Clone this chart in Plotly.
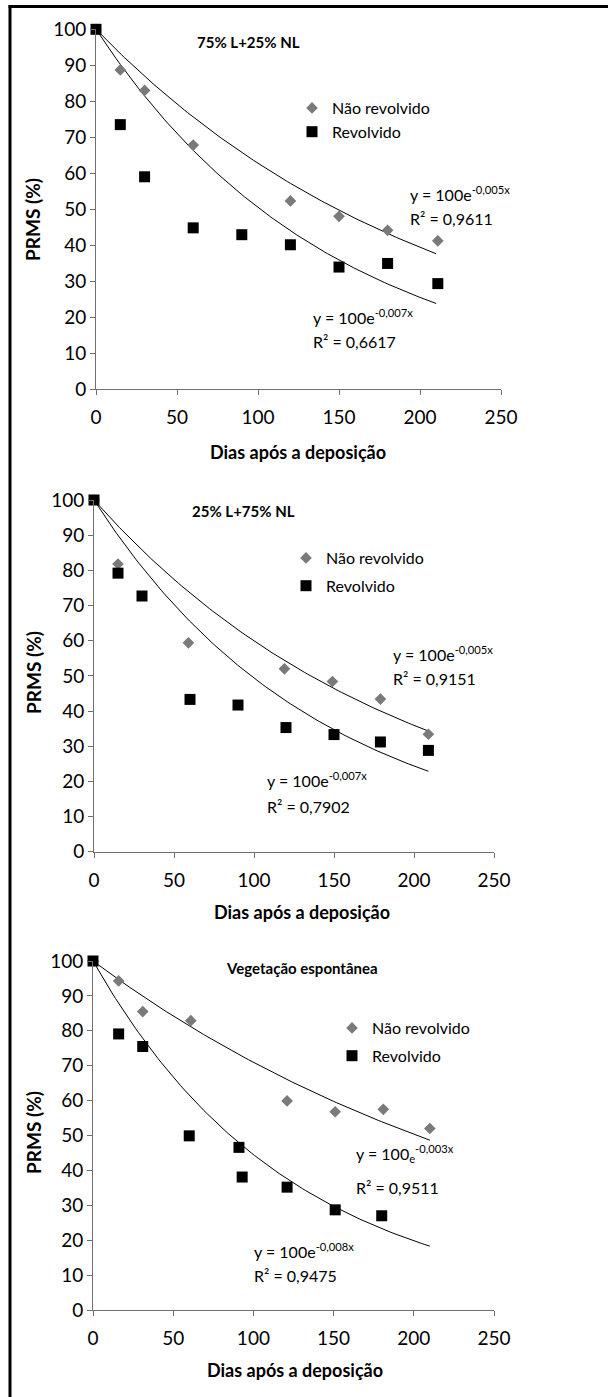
import numpy as np
import plotly.graph_objects as go

# ---------------- data ----------------
titles = ["75% L+25% NL", "25% L+75% NL", "Vegetação espontânea"]
series_names = ["Não revolvido", "Revolvido"]

p1_days_nr = [0, 15, 30, 60, 120, 150, 180, 211]
p1_nr = [100, 88.7, 83.0, 67.8, 52.3, 48.0, 44.1, 41.2]
p1_days_r = [0, 15, 30, 60, 90, 120, 150, 180, 211]
p1_r = [100, 73.5, 59.0, 44.8, 42.9, 40.1, 33.9, 34.9, 29.3]

p2_days_nr = [0, 15, 59, 119, 149, 179, 209]
p2_nr = [100, 81.8, 59.4, 52.0, 48.4, 43.4, 33.4]
p2_days_r = [0, 15, 30, 60, 90, 120, 150, 179, 209]
p2_r = [100, 79.2, 72.7, 43.3, 41.7, 35.3, 33.3, 31.2, 28.8]

p3_days_nr = [0, 16, 31, 61, 121, 151, 181, 210]
p3_nr = [100, 94.3, 85.5, 82.9, 59.9, 56.8, 57.5, 52.0]
p3_days_r = [0, 16, 31, 60, 91, 93, 121, 151, 180]
p3_r = [100, 79.1, 75.5, 49.9, 46.6, 38.1, 35.2, 28.7, 27.0]

# fitted exponential trend coefficients (y = a * exp(-k x)) and fit end day
fit_a = [100, 100, 100]
fit_k_nr = [0.00466, 0.00512, 0.00343]
fit_k_r = [0.00684, 0.00706, 0.00809]
fit_end = [210, 209, 210]

eq_nr = ["y = 100e<sup>-0,005x</sup>", "y = 100e<sup>-0,005x</sup>", "y = 100<sub>e</sub><sup>-0,003x</sup>"]
r2_nr = ["R² = 0,9611", "R² = 0,9151", "R² = 0,9511"]
eq_r = ["y = 100e<sup>-0,007x</sup>", "y = 100e<sup>-0,007x</sup>", "y = 100e<sup>-0,008x</sup>"]
r2_r = ["R² = 0,6617", "R² = 0,7902", "R² = 0,9475"]

x_ticks = [0, 50, 100, 150, 200, 250]
y_ticks = [0, 10, 20, 30, 40, 50, 60, 70, 80, 90, 100]
x_title = "Dias após a deposição"
y_title = "PRMS (%)"

# ---------------- layout helpers ----------------
W, H = 608, 1397
FONT = "Lato"
GRAY = "#7a7a7a"
AXC = "#707070"

def px(x):
    return x / W

def py(y):
    return 1 - y / H

# pixel geometry of each panel: x0, x250, y100, y0
geo = [(96, 501, 29.3, 389), (94, 494, 500, 851.7), (93, 494, 961, 1310)]

data_nr = [(p1_days_nr, p1_nr), (p2_days_nr, p2_nr), (p3_days_nr, p3_nr)]
data_r = [(p1_days_r, p1_r), (p2_days_r, p2_r), (p3_days_r, p3_r)]

fig = go.Figure()
annotations = []
legend_pos = [(312, 108), (306, 558), (352, 1028)]
legend_gap = [0, 4, 4]
title_pos = [(248, 42), (243, 511), (302, 968)]
xt_pos = [(298, 452), (302, 912), (295, 1370)]
yt_pos = [(33, 220), (33, 673), (33, 1133)]
eqnr_pos = [(408, 193, 218), (391, 653, 678), (354, 1153, 1187)]
eqr_pos = [(311, 317, 341), (265, 780, 807), (252, 1250, 1275)]

for i in range(3):
    sfx = "" if i == 0 else str(i + 1)
    xa, ya = "x" + sfx, "y" + sfx
    leg = "legend" if i == 0 else "legend" + str(i + 1)
    a = fit_a[i]
    xs = np.linspace(0, fit_end[i], 120)
    fig.add_trace(go.Scatter(x=xs, y=a * np.exp(-fit_k_nr[i] * xs), mode="lines",
                             line=dict(color="black", width=1), showlegend=False,
                             xaxis=xa, yaxis=ya, hoverinfo="skip"))
    fig.add_trace(go.Scatter(x=xs, y=a * np.exp(-fit_k_r[i] * xs), mode="lines",
                             line=dict(color="black", width=1), showlegend=False,
                             xaxis=xa, yaxis=ya, hoverinfo="skip"))
    fig.add_trace(go.Scatter(x=data_nr[i][0], y=data_nr[i][1], mode="markers",
                             name=series_names[0], legend=leg, legendgroup="nr%d" % i,
                             marker=dict(symbol="diamond", size=9, color=GRAY),
                             cliponaxis=False, xaxis=xa, yaxis=ya))
    fig.add_trace(go.Scatter(x=data_r[i][0], y=data_r[i][1], mode="markers",
                             name=series_names[1], legend=leg, legendgroup="r%d" % i,
                             marker=dict(symbol="square", size=11, color="black"),
                             cliponaxis=False, xaxis=xa, yaxis=ya))

    x0, x250, y100, y0 = geo[i]
    axis_common = dict(showgrid=False, zeroline=False, showline=True, linecolor=AXC,
                       linewidth=1, ticks="outside", ticklen=5, tickcolor=AXC,
                       automargin=False,
                       tickfont=dict(family=FONT, size=19, color="black"))
    fig.layout["xaxis" + sfx] = dict(domain=[px(x0), px(x250)], range=[0, 250],
                                     tickvals=x_ticks, anchor=ya, ticklabelstandoff=6,
                                     **axis_common)
    fig.layout["yaxis" + sfx] = dict(domain=[py(y0), py(y100)], range=[0, 100],
                                     tickvals=y_ticks, anchor=xa, **axis_common)

    lx, ly = legend_pos[i]
    fig.layout[leg] = dict(x=px(lx - 20), y=py(ly - 17), xanchor="left", yanchor="top",
                           bgcolor="rgba(0,0,0,0)", font=dict(family=FONT, size=16, color="black"),
                           itemwidth=30, tracegroupgap=legend_gap[i])

    tx, ty = title_pos[i]
    annotations.append(dict(x=px(tx), y=py(ty), xref="paper", yref="paper", text="<b>%s</b>" % titles[i],
                            showarrow=False, font=dict(family=FONT, size=15, color="black"),
                            xanchor="center", yanchor="middle"))
    xx, xy = xt_pos[i]
    annotations.append(dict(x=px(xx), y=py(xy), xref="paper", yref="paper", text="<b>%s</b>" % x_title,
                            showarrow=False, font=dict(family=FONT, size=18, color="black"),
                            xanchor="center", yanchor="middle"))
    yx, yy = yt_pos[i]
    annotations.append(dict(x=px(yx), y=py(yy), xref="paper", yref="paper", text="<b>%s</b>" % y_title,
                            showarrow=False, textangle=-90, font=dict(family=FONT, size=19, color="black"),
                            xanchor="center", yanchor="middle"))
    ex, ey1, ey2 = eqnr_pos[i]
    annotations.append(dict(x=px(ex), y=py(ey1), xref="paper", yref="paper", text=eq_nr[i],
                            showarrow=False, font=dict(family=FONT, size=16, color="black"),
                            xanchor="left", yanchor="middle"))
    annotations.append(dict(x=px(ex), y=py(ey2), xref="paper", yref="paper", text=r2_nr[i],
                            showarrow=False, font=dict(family=FONT, size=16, color="black"),
                            xanchor="left", yanchor="middle"))
    ex, ey1, ey2 = eqr_pos[i]
    annotations.append(dict(x=px(ex), y=py(ey1), xref="paper", yref="paper", text=eq_r[i],
                            showarrow=False, font=dict(family=FONT, size=16, color="black"),
                            xanchor="left", yanchor="middle"))
    annotations.append(dict(x=px(ex), y=py(ey2), xref="paper", yref="paper", text=r2_r[i],
                            showarrow=False, font=dict(family=FONT, size=16, color="black"),
                            xanchor="left", yanchor="middle"))

shapes = [
    dict(type="line", xref="paper", yref="paper", x0=px(10), x1=px(10), y0=0, y1=py(5.5),
         line=dict(color="black", width=3)),
    dict(type="line", xref="paper", yref="paper", x0=px(8.5), x1=1, y0=py(6.5), y1=py(6.5),
         line=dict(color="black", width=3)),
]

fig.update_layout(width=W, height=H, margin=dict(l=0, r=0, t=0, b=0, autoexpand=False),
                  paper_bgcolor="white", plot_bgcolor="white",
                  annotations=annotations, shapes=shapes,
                  font=dict(family=FONT, color="black"))

fig.write_html("out.html", config={"displayModeBar": False},
               post_script="document.body.style.margin='0';document.body.style.overflow='hidden';")
